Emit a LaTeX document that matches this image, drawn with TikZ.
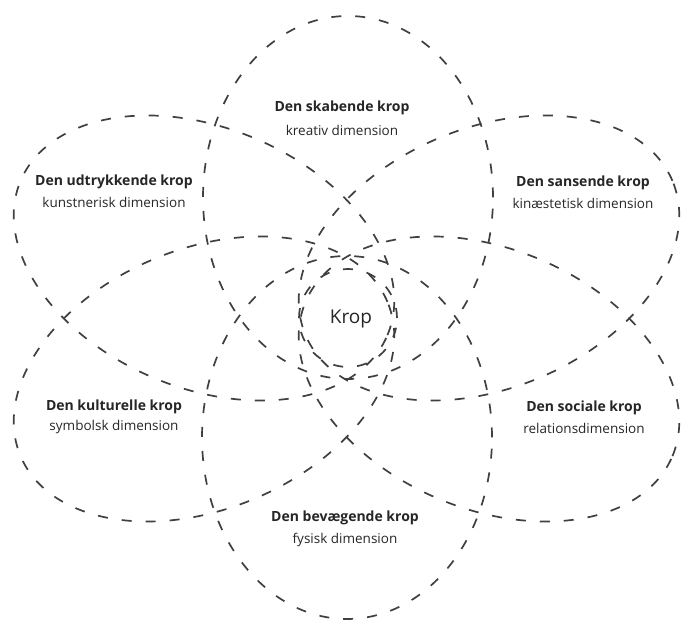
\documentclass[tikz,border=0pt]{standalone}
\usepackage{fontspec}
\setmainfont{Open Sans}
\definecolor{dashcol}{HTML}{404040}
\definecolor{textcol}{HTML}{262626}
\begin{document}
\begin{tikzpicture}[x=1pt,y=1pt,
  petal/.style={draw=dashcol, line width=1.7pt, dash pattern=on 10pt off 14pt},
  ttl/.style={font=\bfseries\fontsize{14}{16}\selectfont, text=textcol, inner sep=0pt},
  sbt/.style={font=\fontsize{13.5}{16}\selectfont, text=textcol, inner sep=0pt},
  ctr/.style={font=\fontsize{19}{22}\selectfont, text=textcol, inner sep=0pt}]
\useasboundingbox (0,0) rectangle (686,620);
\fill[white] (0,0) rectangle (686,620);
% vertical petals
\draw[petal] (348,422.5) ellipse [x radius=145, y radius=181.5];
\draw[petal] (347,182.5) ellipse [x radius=145, y radius=181.5];
% tilted petals
\draw[petal, rotate around={-22.8:(204,362)}] (204,362) ellipse [x radius=199, y radius=130];
\draw[petal, rotate around={22.8:(489,362)}] (489,362) ellipse [x radius=199, y radius=130];
\draw[petal, rotate around={22.8:(204,241)}] (204,241) ellipse [x radius=199, y radius=130];
\draw[petal, rotate around={-22.8:(489,241)}] (489,241) ellipse [x radius=199, y radius=130];
% centre
\draw[petal] (348,302) circle [radius=49];
\node[ctr] (krop) at (351,301) {Krop};
% labels
\node[ttl] (t1) at (342,512) {Den skabende krop};
\node[sbt] (s1) at (342,490) {kreativ dimension};
\node[ttl] (t2) at (114,438) {Den udtrykkende krop};
\node[sbt] (s2) at (114,418) {kunstnerisk dimension};
\node[ttl] (t3) at (583,437) {Den sansende krop};
\node[sbt] (s3) at (583,417) {kinæstetisk dimension};
\node[ttl] (t4) at (114,213) {Den kulturelle krop};
\node[sbt] (s4) at (114,193) {symbolsk dimension};
\node[ttl] (t5) at (584,212) {Den sociale krop};
\node[sbt] (s5) at (584,192) {relationsdimension};
\node[ttl] (t6) at (345,102) {Den bevægende krop};
\node[sbt] (s6) at (345,80) {fysisk dimension};
\end{tikzpicture}
\end{document}
